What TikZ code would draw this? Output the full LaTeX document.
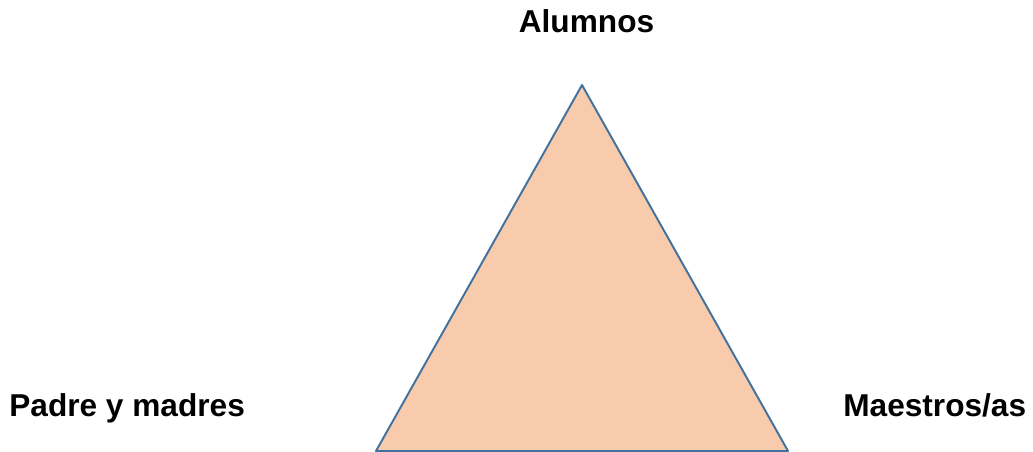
\documentclass[tikz,border=0pt]{standalone}
\usepackage{fontspec}
\setmainfont{Liberation Sans}
\definecolor{relleno}{RGB}{247,203,172}
\definecolor{borde}{RGB}{65,113,156}
\begin{document}
\begin{tikzpicture}[x=0.02cm,y=0.02cm]
            \tikzset{etiqueta/.style={inner sep=0,font=\fontsize{18}{21}\selectfont\bfseries}}
            \useasboundingbox (0,0) rectangle (1033,452);
            \def\xa{376}
            \def\xb{788}
            \def\xc{582}
            \def\yc{367}
            \coordinate (A) at (\xa,1);
            \coordinate (B) at (\xb,1);
            \coordinate (C) at (\xc,\yc);
            \draw[borde,fill=relleno,line width=1.1pt,line join=round] (A)--(B)--(C)--cycle;
            \node[etiqueta,anchor=base] (alumnos) at (586.5,419) {Alumnos};
            \node[etiqueta,anchor=base west] (padres) at (9,35) {Padre y madres};
            \node[etiqueta,anchor=base west] (maestros) at (843,35) {Maestros/as};
        \end{tikzpicture}
\end{document}
